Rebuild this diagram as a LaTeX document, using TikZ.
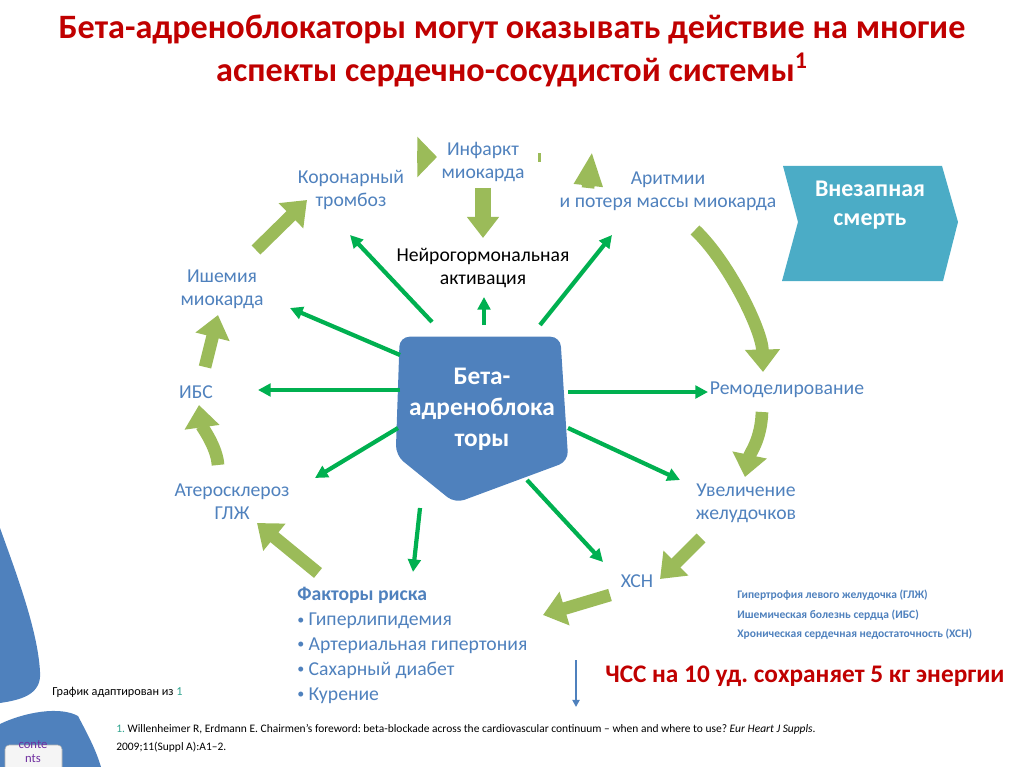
\documentclass[tikz,border=0pt]{standalone}
\usepackage{fontspec}
\setmainfont{Carlito}
\usepackage{xcolor}
\usepackage{tikz}
\usetikzlibrary{arrows.meta}
\usetikzlibrary{calc}
\usetikzlibrary{positioning}

\definecolor{titlered}{HTML}{C00000}
\definecolor{lblblue}{HTML}{4F81BD}
\definecolor{betablue}{HTML}{4F81BD}
\definecolor{deathteal}{HTML}{4BACC6}
\definecolor{drgreen}{HTML}{00B050}
\definecolor{ltgreen}{HTML}{9BBB59}
\definecolor{numgreen}{HTML}{2FA38E}
\definecolor{btnpurple}{HTML}{7030A0}

\newcommand{\riskbullet}{{\fontsize{10}{10}\selectfont\raisebox{1pt}{•}}}

\begin{document}
\frenchspacing
\begin{tikzpicture}[x=0.025cm, y=-0.025cm]

% Custom styles
    \tikzstyle{stage} = [text=lblblue, align=center, inner sep=2pt, font=\fontsize{14}{16.5}\selectfont]
    \tikzstyle{legend} = [text=lblblue, inner sep=0pt, font=\fontsize{8.2}{10}\selectfont\bfseries]
    \tikzstyle{drugarrow} = [draw=drgreen, line width=3pt, -{Triangle[width=9pt,length=9pt]}]
    \tikzstyle{stagearrow} = [draw=ltgreen, line width=9pt, -{Triangle[width=24pt,length=16pt]}]

    \useasboundingbox (0,0) rectangle (1024,767);

    % Side decoration
    \fill[betablue] (0,528) .. controls (15,570) and (38,630) .. (40,672) .. controls (42,695) and (20,700) .. (0,703) -- cycle;
    \fill[betablue] (0,724) .. controls (25,712) and (60,706) .. (78,716) .. controls (88,735) and (96,750) .. (101,767) -- (0,767) -- cycle;
    \draw[gray!60, fill=gray!8, rounded corners=3pt] (5,745) rectangle (62,780);
    \node[text=btnpurple, align=center, inner sep=0pt, font=\fontsize{9}{10}\selectfont] (contents) at (33,752) {conte\\nts};

    % Title
    \node[text=titlered, align=center, font=\fontsize{24.3}{30.5}\selectfont\bfseries] (title) at (512,51)
        {Бета-адреноблокаторы могут оказывать действие на многие\\аспекты сердечно-сосудистой системы\textsuperscript{1}};

    % Define nodes
    \node[minimum width=4.3cm, minimum height=3.1cm, inner sep=0pt] (beta) at (482,399) {};
    \fill[betablue, rounded corners=7pt] ($(beta.north west)+(4,0)$) -- ($(beta.north east)+(-8,0)$) -- (beta.south east)
        -- ($(beta.south)+(-27,42)$) -- ($(beta.south west)+(0,-6)$) -- cycle;
    \node[text=white, align=center, font=\fontsize{18}{22}\selectfont\bfseries] (betatext) at (482,409) {Бета-\\адреноблока\\торы};

    \fill[deathteal] (783,166) -- (942,166) -- (958,222) -- (943,281) -- (782,281) -- (798,222) -- cycle;
    \node[text=white, align=center, font=\fontsize{17}{21}\selectfont\bfseries] (sudden) at (870,205) {Внезапная\\смерть};

    \node[stage] (koron) at (351,190) {Коронарный\\тромбоз};
    \node[stage] (infarkt) at (483,162) {Инфаркт\\миокарда};
    \node[stage] (aritm) at (668,191) {Аритмии\\и потеря массы миокарда};
    \node[stage, text=black] (neuro) at (483,268) {Нейрогормональная\\активация};
    \node[stage] (ishem) at (222,289) {Ишемия\\миокарда};
    \node[stage] (ibs) at (196,392) {ИБС};
    \node[stage] (ather) at (232,502) {Атеросклероз\\ГЛЖ};
    \node[stage] (remod) at (787,390) {Ремоделирование};
    \node[stage] (uvel) at (746,503) {Увеличение\\желудочков};
    \node[stage] (hsn) at (637,581) {ХСН};
    \node[stage, align=left, anchor=north west, inner sep=0pt, font=\fontsize{14}{17.7}\selectfont] (risk) at (297,587)
        {\textbf{Факторы риска}\\\riskbullet{} Гиперлипидемия\\\riskbullet{} Артериальная гипертония\\\riskbullet{} Сахарный диабет\\\riskbullet{} Курение};

    \node[legend, anchor=west] (lglj) at (737,595) {Гипертрофия левого желудочка (ГЛЖ)};
    \node[legend, below=14pt of lglj.west, anchor=west] (libs) {Ишемическая болезнь сердца (ИБС)};
    \node[legend, below=14pt of libs.west, anchor=west] (lhsn) {Хроническая сердечная недостаточность (ХСН)};

    \node[text=titlered, font=\fontsize{18}{21}\selectfont\bfseries] (chss) at (805,676) {ЧСС на 10 уд. сохраняет 5 кг энергии};
    \coordinate (hrtop) at (576,660);
    \coordinate (hrbot) at (576,707);

    \node[anchor=west, inner sep=0pt, font=\fontsize{8.7}{10}\selectfont] (source) at (52,692) {График адаптирован из {\color{numgreen}1}};
    \node[anchor=north west, align=left, inner sep=0pt, font=\fontsize{8.15}{13}\selectfont] (ref) at (116,724)
        {{\color{numgreen}1.} Willenheimer R, Erdmann E. Chairmen’s foreword: beta-blockade across the cardiovascular continuum – when and where to use? \textit{Eur Heart J Suppls}.\\2009;11(Suppl A):A1–2.};

    % Connect nodes
    \draw[drugarrow] ($(beta)+(2,-74)$) -- ($(neuro)+(1,29)$);
    \draw[drugarrow] ($(beta)+(-50,-77)$) -- ($(koron)+(-1,45)$);
    \draw[drugarrow] ($(beta)+(58,-74)$) -- ($(aritm)+(-56,44)$);
    \draw[drugarrow] ($(beta)+(-82,-44)$) -- ($(ishem)+(68,19)$);
    \draw[drugarrow] ($(beta)+(-82,-9)$) -- ($(ibs)+(62,-2)$);
    \draw[drugarrow] ($(beta)+(-84,29)$) -- ($(ather)+(83,-24)$);
    \draw[drugarrow] ($(beta)+(-62,109)$) -- ($(risk.north west)+(116,-15)$);
    \draw[drugarrow] ($(beta)+(45,81)$) -- ($(hsn)+(-34,-19)$);
    \draw[drugarrow] ($(beta)+(86,29)$) -- ($(uvel)+(-66,-23)$);
    \draw[drugarrow] ($(beta)+(86,-7)$) -- ($(remod)+(-79,2)$);

    % Continuum
    \draw[stagearrow] ($(aritm)+(27,39)$) .. controls ($(aritm)+(60,70)$) and ($(remod)+(-25,-60)$) .. ($(remod)+(-24,-18)$);
    \draw[stagearrow] ($(remod)+(-25,22)$) .. controls ($(remod)+(-26,50)$) and ($(uvel)+(4,-50)$) .. ($(uvel)+(-1,-26)$);
    \draw[stagearrow] ($(uvel)+(-45,35)$) -- ($(hsn)+(23,-2)$);
    \draw[stagearrow] ($(hsn)+(-27,14)$) -- ($(risk.north west)+(246,28)$);
    \draw[stagearrow] ($(risk.north west)+(21,-14)$) -- ($(ather)+(25,21)$);
    \draw[stagearrow] ($(ather)+(-14,-37)$) .. controls ($(ather)+(-15,-55)$) and ($(ibs)+(6,35)$) .. ($(ibs)+(3,13)$);
    \draw[stagearrow] ($(ibs)+(9,-25)$) -- ($(ishem)+(-4,26)$);
    \draw[stagearrow] ($(ishem)+(34,-39)$) -- ($(koron)+(-44,10)$);
    \draw[stagearrow, -{Triangle[width=28pt,length=14pt]}] ($(koron)+(66,-33)$) -- ($(infarkt)+(-46,-5)$);
    \draw[stagearrow, -{Triangle[width=19pt,length=24pt]}] ($(infarkt)+(105,26)$) -- ($(aritm)+(-76,-39)$);
    \draw[stagearrow, line width=12pt, -{Triangle[width=22pt,length=15pt]}] ($(infarkt)+(0,26)$) -- ($(neuro)+(0,-30)$);
    \fill[ltgreen] (538,153) rectangle (541,162);

    \draw[lblblue, line width=1.4pt, -{Triangle[width=5pt,length=5pt]}] (hrtop) -- (hrbot);

\end{tikzpicture}
\end{document}
